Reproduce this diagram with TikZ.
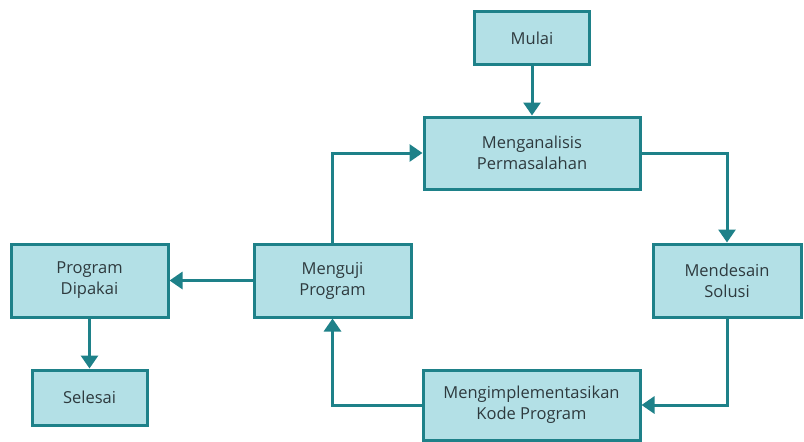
\documentclass[tikz,border=0pt]{standalone}
\usepackage{fontspec}
\setmainfont{Open Sans}
\usetikzlibrary{positioning, arrows.meta}
\definecolor{tealline}{HTML}{1E8189}
\definecolor{boxfill}{HTML}{B3E0E6}
\definecolor{textgray}{HTML}{2E3A3E}

\begin{document}
\begin{tikzpicture}[
  x=1pt, y=-1pt,
  >={Triangle[width=17pt,length=13pt]},
  box/.style={draw=tealline, fill=boxfill, line width=3pt, align=center,
    text=textgray, font=\fontsize{16.5}{21}\selectfont, inner sep=0pt},
  flow/.style={->, draw=tealline, line width=3pt}
]
\useasboundingbox (0,0) rectangle (804,442);

% Boxes
\node[box, minimum width=115, minimum height=53] (mulai) at (532,38) {Mulai};
\node[box, minimum width=216, minimum height=72] (analisis) at (532,153) {Menganalisis\\Permasalahan};
\node[box, minimum width=148, minimum height=73] (desain) at (727,280.5) {Mendesain\\Solusi};
\node[box, minimum width=217, minimum height=70] (implementasi) at (531.5,405) {Mengimplementasikan\\Kode Program};
\node[box, minimum width=157, minimum height=73] (uji) at (332.5,280.5) {Menguji\\Program};
\node[box, minimum width=157, minimum height=73] (dipakai) at (89.5,280.5) {Program\\Dipakai};
\node[box, minimum width=115, minimum height=55] (selesai) at (89.5,397.5) {Selesai};

% Cycle
\draw[flow] (mulai) -- (analisis);
\draw[flow] (analisis) -| (desain);
\draw[flow] (desain) |- (implementasi);
\draw[flow] (implementasi) -| (uji);
\draw[flow] (uji) |- (analisis);

% Exit
\draw[flow] (uji) -- (dipakai);
\draw[flow] (dipakai) -- (selesai);

\end{tikzpicture}
\end{document}
